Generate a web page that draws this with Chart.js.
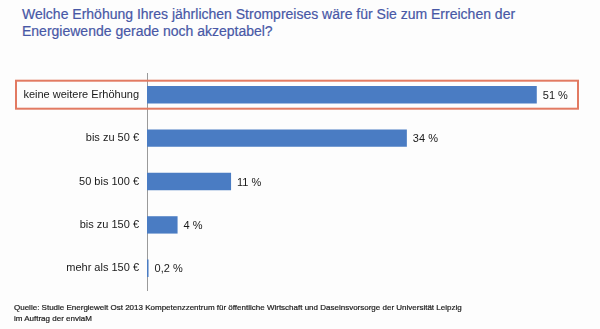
<!DOCTYPE html>
<html>
<head>
<meta charset="utf-8">
<script src="https://cdn.jsdelivr.net/npm/chart.js@4"></script>
<style>
    body { margin: 0; background: #fdfdfd; }
    #wrap { position: relative; width: 600px; height: 329px; overflow: hidden; }
    #title {
        position: absolute; left: 22px; top: 6px;
        font: 14px "Liberation Sans", Arial, sans-serif;
        line-height: 17px; color: #4858a6;
        -webkit-text-stroke: 0.2px #4858a6;
    }
    #source {
        position: absolute; left: 14px; top: 302px;
        font: 8px "Liberation Sans", Arial, sans-serif;
        line-height: 11px; color: #1a1a1a;
        -webkit-text-stroke: 0.2px #1a1a1a;
    }
    canvas { position: absolute; left: 0; top: 0; }
</style>
</head>
<body>
<div id="wrap">
    <div id="title">Welche Erhöhung Ihres jährlichen Strompreises wäre für Sie zum Erreichen der<br>Energiewende gerade noch akzeptabel?</div>
    <canvas id="barChart" width="600" height="329"></canvas>
    <div id="source">Quelle: Studie Energiewelt Ost 2013 Kompetenzzentrum für öffentliche Wirtschaft und Daseinsvorsorge der Universität Leipzig<br>im Auftrag der enviaM</div>
</div>
<script>
const categories = ['keine weitere Erhöhung', 'bis zu 50 €', '50 bis 100 €', 'bis zu 150 €', 'mehr als 150 €'];
const shares = [51, 34, 11, 4, 0.2];

// percent label next to each bar, German decimal comma
const valueLabels = {
    id: 'valueLabels',
    afterDatasetsDraw(chart) {
        const ctx = chart.ctx;
        const meta = chart.getDatasetMeta(0);
        ctx.save();
        ctx.font = '11px "Liberation Sans", Arial, sans-serif';
        ctx.fillStyle = '#1a1a1a';
        ctx.textBaseline = 'middle';
        meta.data.forEach((bar, i) => {
            const txt = String(shares[i]).replace('.', ',') + ' %';
            ctx.fillText(txt, bar.x + 6, bar.y + 1);
        });
        ctx.restore();
    }
};

// orange frame around the first row
const highlightRow = {
    id: 'highlightRow',
    afterDraw(chart) {
        const ctx = chart.ctx;
        const y = chart.scales.y.getPixelForValue(0);
        ctx.save();
        ctx.strokeStyle = '#e27a62';
        ctx.lineWidth = 2;
        ctx.strokeRect(16, y - 14, chart.chartArea.right + 3 - 16, 28);
        ctx.restore();
    }
};

new Chart(document.getElementById('barChart'), {
    type: 'bar',
    data: {
        labels: categories,
        datasets: [{
            data: shares,
            backgroundColor: '#4a7cc3',
            categoryPercentage: 0.4,
            barPercentage: 1
        }]
    },
    options: {
        indexAxis: 'y',
        responsive: false,
        animation: false,
        layout: { padding: { top: 73, bottom: 39, left: 0, right: 25 } },
        plugins: { legend: { display: false }, tooltip: { enabled: false } },
        scales: {
            x: {
                min: 0, max: 56,
                display: false,
                grid: { display: false }
            },
            y: {
                afterFit(scale) { scale.width = 147; },
                grid: { display: false, drawTicks: false },
                border: { display: true, color: '#9a9a9a', width: 1 },
                ticks: {
                    padding: 8,
                    color: '#1a1a1a',
                    font: { family: '"Liberation Sans", Arial, sans-serif', size: 11 }
                }
            }
        }
    },
    plugins: [valueLabels, highlightRow]
});
</script>
</body>
</html>
